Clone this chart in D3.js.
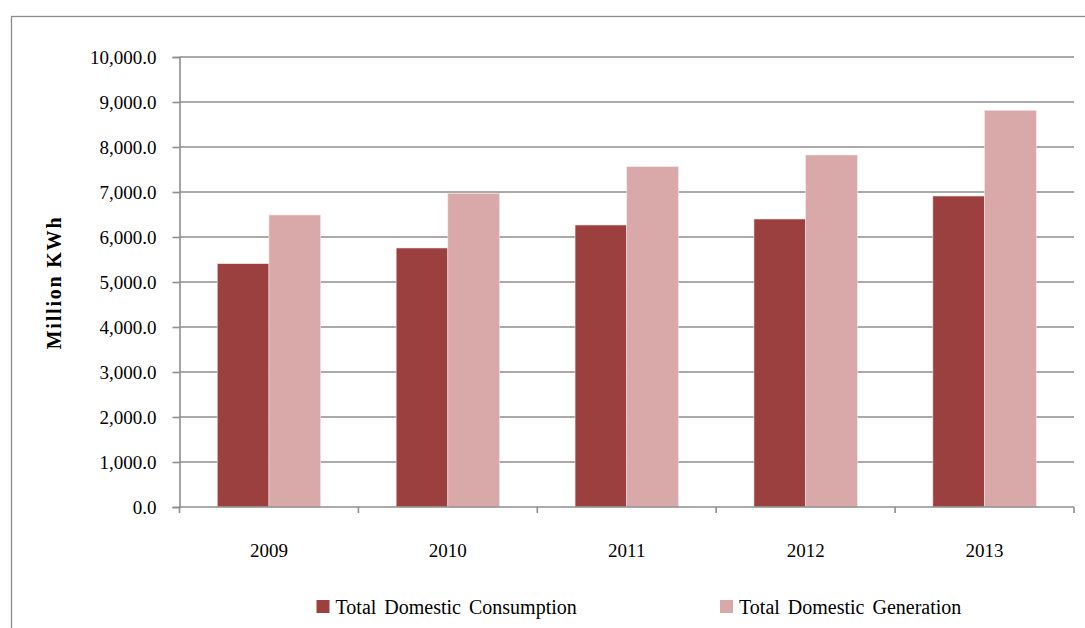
<!DOCTYPE html>
<html>
<head>
<meta charset="utf-8">
<script src="https://cdn.jsdelivr.net/npm/d3@7"></script>
<style>
  html, body { margin: 0; padding: 0; background: #fff; }
  svg { display: block; }
</style>
</head>
<body>
<svg id="chart" width="1085" height="628"></svg>
<script>
// Annual electricity figures, million kWh
const years = ["2009", "2010", "2011", "2012", "2013"];
const consumption = [5407, 5756, 6267, 6400, 6911];
const generation = [6489, 6971, 7563, 7822, 8815];
const seriesNames = ["Total Domestic Consumption", "Total Domestic Generation"];
const seriesColors = ["#9c403f", "#d9a9a9"];
const yTicks = [0, 1000, 2000, 3000, 4000, 5000, 6000, 7000, 8000, 9000, 10000];
const yTitle = "Million KWh";

const FONT = "Liberation Serif, Times New Roman, serif";
const svg = d3.select("#chart");
const W = 1085, H = 628;

// outer chart frame (runs off the right and bottom edges)
svg.append("rect")
  .attr("x", 11.5).attr("y", 16.5)
  .attr("width", W + 10).attr("height", H + 10)
  .attr("fill", "none").attr("stroke", "#8c8c8c").attr("stroke-width", 1.3);

const plot = { left: 179.5, right: 1074, top: 57, bottom: 507 };

const x = d3.scaleBand().domain(years).range([plot.left, plot.right]).paddingInner(0).paddingOuter(0);
const y = d3.scaleLinear().domain([0, 10000]).range([plot.bottom, plot.top]);

const groupPad = 0.211;
const xs = d3.scaleBand().domain(d3.range(seriesNames.length))
  .range([x.bandwidth() * groupPad, x.bandwidth() * (1 - groupPad)]).padding(0);

// horizontal gridlines
svg.append("g").selectAll("line").data(yTicks.filter(d => d > 0)).join("line")
  .attr("x1", plot.left).attr("x2", plot.right)
  .attr("y1", d => y(d)).attr("y2", d => y(d))
  .attr("stroke", "#8e8e8e").attr("stroke-width", 1.6);

// y axis
const fmt = d3.format(",.1f");
const yAxis = svg.append("g").attr("transform", `translate(${plot.left},0)`)
  .call(d3.axisLeft(y).tickValues(yTicks).tickFormat(fmt).tickSize(7).tickPadding(16));
yAxis.select(".domain").attr("stroke", "#8e8e8e").attr("stroke-width", 1.6);
yAxis.selectAll(".tick line").attr("stroke", "#8e8e8e").attr("stroke-width", 1.6);
yAxis.selectAll(".tick text").attr("font-size", 19).attr("font-family", FONT).attr("fill", "#000");

// bars
const data = years.map((yr, i) => ({ yr, vals: [consumption[i], generation[i]] }));
const groups = svg.append("g").selectAll("g").data(data).join("g")
  .attr("transform", d => `translate(${x(d.yr)},0)`);
groups.selectAll("rect").data(d => d.vals.map((v, k) => ({ v, k }))).join("rect")
  .attr("x", d => xs(d.k))
  .attr("y", d => y(d.v))
  .attr("width", xs.bandwidth())
  .attr("height", d => y(0) - y(d.v))
  .attr("fill", d => seriesColors[d.k])
  .attr("stroke", "#f3e4e4").attr("stroke-width", 0.6);

// x axis
const xAxis = svg.append("g").attr("transform", `translate(0,${plot.bottom})`)
  .call(d3.axisBottom(x).tickSize(0).tickPadding(37));
xAxis.select(".domain").remove();
xAxis.selectAll(".tick text").attr("font-size", 19).attr("font-family", FONT).attr("fill", "#000");
svg.append("line").attr("x1", plot.left).attr("x2", plot.right)
  .attr("y1", plot.bottom).attr("y2", plot.bottom)
  .attr("stroke", "#8e8e8e").attr("stroke-width", 1.6);
// category boundary ticks
const bounds = years.map(d => x(d)).concat([plot.right]);
svg.append("g").selectAll("line").data(bounds).join("line")
  .attr("x1", d => d).attr("x2", d => d)
  .attr("y1", plot.bottom).attr("y2", plot.bottom + 6)
  .attr("stroke", "#8e8e8e").attr("stroke-width", 1.6);

// y axis title
svg.append("text")
  .attr("transform", "translate(61,282.5) rotate(-90)")
  .attr("text-anchor", "middle")
  .attr("font-family", FONT)
  .attr("font-size", 20).attr("font-weight", "bold")
  .attr("letter-spacing", 1.8)
  .text(yTitle);

// legend
const legendItems = [{ x: 316.5, name: seriesNames[0], c: seriesColors[0] },
                     { x: 720, name: seriesNames[1], c: seriesColors[1] }];
const lg = svg.append("g").selectAll("g").data(legendItems).join("g")
  .attr("transform", d => `translate(${d.x},600)`);
lg.append("rect").attr("width", 13).attr("height", 13).attr("fill", d => d.c);
lg.append("text").attr("x", 19).attr("y", 13.5)
  .attr("font-family", FONT).attr("font-size", 20).attr("word-spacing", 3)
  .text(d => d.name);
</script>
</body>
</html>
